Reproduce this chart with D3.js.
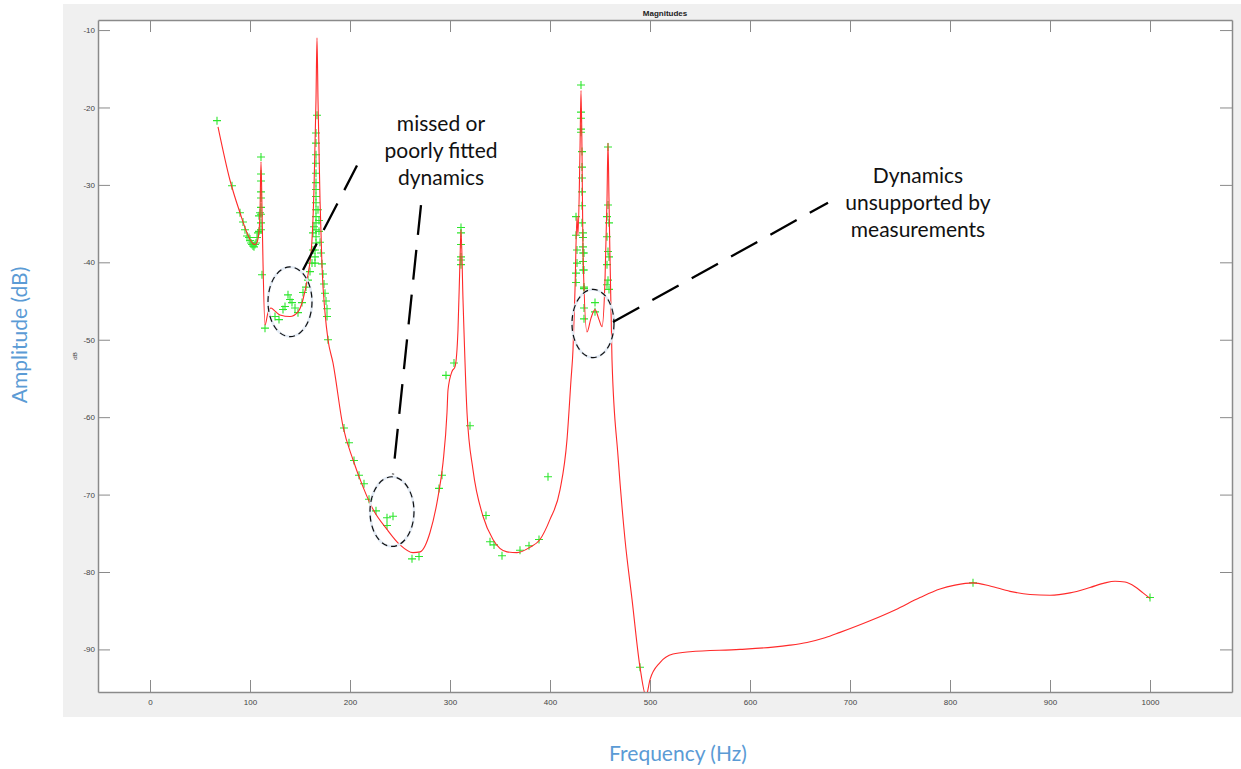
<!DOCTYPE html>
<html>
<head>
<meta charset="utf-8">
<script src="https://cdn.jsdelivr.net/npm/d3@7"></script>
<style>
  body { margin: 0; background: #fff; }
  .axis path, .axis line { stroke: #8a8a8a; }
  .axis text { font-family: "Liberation Sans", Arial, sans-serif; font-size: 8px; fill: #444; }
</style>
</head>
<body>
<script>
// fitted model (red line)
const fitFreq = [68, 80, 90, 98, 103, 105, 107, 109, 110, 111, 112, 113, 115, 118, 121, 125, 130, 140, 148, 153,
  158, 162, 164, 166, 167, 168, 170, 172, 175, 178, 183, 193, 203, 213, 223, 237, 250, 263, 270, 280,
  288, 293, 297, 298, 302, 305, 308, 310, 311, 313, 317, 323, 333, 343, 357, 367, 380, 390, 400, 410,
  417, 421, 423, 425, 427, 428, 430, 431, 432, 433, 437, 441, 445, 449, 452, 455, 457, 458, 459, 462,
  468, 475, 482, 490, 496, 500, 510, 523, 540, 590, 623, 640, 657, 675, 690, 720, 745, 770, 790, 805,
  823, 840, 860, 880, 900, 920, 940, 955, 965, 975, 985, 993, 1000];
const fitMag = [-22.5, -29.4, -33.6, -36.5, -37.6, -37.7, -37.4, -36.0, -33.5, -27.0, -33.0, -40.0, -48.1, -46.5, -45.9, -46.3, -46.8, -47.0, -46.4, -44.8,
  -41.6, -37.1, -30.5, -19.0, -11.0, -19.0, -31.9, -40.5, -46.5, -50.0, -53.0, -61.2, -65.5, -69.0, -71.9, -74.5, -76.5, -77.5, -77.4, -74.9,
  -70.3, -65.9, -59.4, -56.5, -54.1, -53.5, -48.7, -39.7, -35.8, -44.8, -59.4, -66.8, -72.8, -75.8, -77.4, -77.5, -76.8, -75.8, -73.2, -69.4,
  -62.9, -55.2, -51.3, -43.5, -34.1, -36.5, -25.5, -17.8, -25.5, -38.7, -49.0, -47.2, -46.1, -47.4, -48.3, -42.3, -31.9, -24.6, -31.9, -52.6,
  -65.0, -75.8, -83.5, -92.3, -96.0, -93.9, -91.7, -90.6, -90.3, -90.0, -89.7, -89.45, -89.1, -88.5, -87.8, -86.3, -84.9, -83.3, -82.2, -81.7,
  -81.4, -81.8, -82.5, -82.9, -83.0, -82.7, -82.0, -81.4, -81.2, -81.3, -81.9, -82.7, -83.4];

// measurements (green +)
const measFreq = [67, 82, 90, 93, 95, 97, 99, 100, 101, 102, 103, 104, 105, 106, 107, 108, 109, 109, 110,
  111, 111, 111, 111, 111, 111, 111, 111, 111, 112, 115,
  125, 129, 133, 135, 138, 140, 142, 145, 148, 152, 153, 156, 158, 160, 162, 163, 163, 164,
  167, 166, 166, 166, 166, 166, 166, 166, 166, 166, 166, 166, 166, 166, 166, 166, 165, 165, 165,
  168, 169, 169, 170, 171, 172, 173, 174, 175, 176, 177, 177, 178,
  194, 199, 204, 209, 214, 219, 226, 237, 243, 237, 262, 269,
  289, 292, 296, 304, 311, 311, 311, 311, 311, 311, 320, 336, 340, 344, 352, 370, 379, 389, 398,
  431, 431, 431, 431, 431, 432, 432, 432, 432, 432, 432, 433, 433, 433, 433, 433, 433,
  426, 426, 427, 427, 426, 426, 434, 434, 434, 434, 434, 434, 445, 445,
  458, 458, 457, 459, 457, 458, 459, 457, 458, 457, 459,
  490, 823, 1000];
const measMag = [-21.7, -30.1, -33.6, -34.8, -35.8, -36.6, -36.8, -37.2, -37.5, -37.7, -37.9, -38.0, -37.7, -37.5, -36.8, -36.2, -36.0, -34.0, -33.6,
  -26.4, -28.6, -29.5, -30.9, -31.7, -32.9, -33.8, -34.9, -35.8, -41.6, -48.5,
  -47.0, -47.4, -46.1, -45.7, -44.2, -44.8, -45.2, -45.9, -46.5, -45.2, -43.9, -43.2, -42.3, -41.2, -40.1, -38.4, -36.2, -35.4,
  -21.0, -23.3, -24.6, -26.1, -27.2, -28.5, -29.7, -30.6, -31.5, -32.3, -33.2, -34.1, -34.9, -35.8, -36.7, -37.5, -38.4, -39.3, -40.1,
  -33.2, -34.6, -36.0, -37.4, -38.8, -40.2, -41.5, -42.8, -44.0, -45.0, -46.0, -47.0, -50.0,
  -61.4, -63.3, -65.6, -67.5, -68.6, -70.6, -72.1, -73.0, -72.8, -74.0, -78.3, -78.0,
  -69.2, -67.5, -54.6, -53.0, -35.5, -36.2, -37.7, -39.3, -39.7, -40.3, -61.1, -72.7, -76.1, -76.5, -77.9, -77.2, -76.6, -75.8, -67.7,
  -17.1, -20.6, -21.4, -22.8, -23.2, -25.7, -27.7, -29.1, -30.9, -32.7, -34.9, -36.2, -36.8, -38.0, -38.8, -41.0, -39.9,
  -34.1, -36.5, -38.4, -40.1, -41.4, -42.6, -38.8, -43.2, -41.0, -45.9, -47.3, -43.4, -45.2, -46.4,
  -25.1, -32.6, -34.1, -34.9, -36.7, -38.6, -39.3, -40.3, -42.3, -42.9, -43.5,
  -92.3, -81.4, -83.3];

const xTicks = [0, 100, 200, 300, 400, 500, 600, 700, 800, 900, 1000];
const yTicks = [-10, -20, -30, -40, -50, -60, -70, -80, -90];
const xDomain = [-52, 1082];
const yDomain = [-95.5, -8.7];

// annotations, in data units
const ellipses = [
  { f: 140, db: -45.1, rf: 22, rdb: 4.5 },
  { f: 242, db: -72.2, rf: 22, rdb: 4.5 },
  { f: 443, db: -47.9, rf: 21, rdb: 4.4 }
];
const leaders = [
  { f1: 153, db1: -41.0, f2: 207, db2: -27.5 },
  { f1: 271, db1: -32.6, f2: 243, db2: -67.4 },
  { f1: 463, db1: -47.7, f2: 678, db2: -32.3 }
];
const notes = [
  { f: 291, db: -23.0, lines: ['missed or', 'poorly fitted', 'dynamics'] },
  { f: 768, db: -29.7, lines: ['Dynamics', 'unsupported by', 'measurements'] }
];

const width = 1241;
const height = 769;
const pLeft = 98, pRight = 1232, pTop = 20, pBottom = 692;

const svg = d3.select('body').append('svg')
  .attr('width', width)
  .attr('height', height);

svg.append('rect')
  .attr('x', 63).attr('y', 4)
  .attr('width', width - 63).attr('height', 713)
  .attr('fill', '#f0f0f0');

svg.append('rect')
  .attr('x', pLeft).attr('y', pTop)
  .attr('width', pRight - pLeft).attr('height', pBottom - pTop)
  .attr('fill', '#fff');

const x = d3.scaleLinear().domain(xDomain).range([pLeft, pRight]);
const y = d3.scaleLinear().domain(yDomain).range([pBottom, pTop]);
const plain = (d) => String(d);

svg.append('g')
  .attr('class', 'axis')
  .attr('transform', `translate(0, ${pBottom})`)
  .call(d3.axisBottom(x).tickValues(xTicks).tickFormat(plain).tickSizeInner(-12).tickSizeOuter(0).tickPadding(7));

svg.append('g')
  .attr('class', 'axis')
  .attr('transform', `translate(0, ${pTop})`)
  .call(d3.axisTop(x).tickValues(xTicks).tickSizeInner(-12).tickSizeOuter(0).tickFormat(''));

svg.append('g')
  .attr('class', 'axis')
  .attr('transform', `translate(${pLeft}, 0)`)
  .call(d3.axisLeft(y).tickValues(yTicks).tickFormat(plain).tickSizeInner(-12).tickSizeOuter(0).tickPadding(3));

svg.append('g')
  .attr('class', 'axis')
  .attr('transform', `translate(${pRight}, 0)`)
  .call(d3.axisRight(y).tickValues(yTicks).tickSizeInner(-12).tickSizeOuter(0).tickFormat(''));

svg.selectAll('.axis path').attr('stroke-width', 1.5);

svg.append('defs').append('clipPath').attr('id', 'plot')
  .append('rect').attr('x', pLeft).attr('y', pTop)
  .attr('width', pRight - pLeft).attr('height', pBottom - pTop);

const plot = svg.append('g').attr('clip-path', 'url(#plot)');

const fit = fitFreq.map((f, i) => ({ f, db: fitMag[i] }));
const meas = measFreq.map((f, i) => ({ f, db: measMag[i] }));

plot.selectAll('path.meas')
  .data(meas)
  .enter()
  .append('path')
  .attr('class', 'meas')
  .attr('transform', (d) => `translate(${x(d.f)}, ${y(d.db)})`)
  .attr('d', 'M-4,0H4M0,-4V4')
  .attr('stroke', '#2ee62e')
  .attr('stroke-width', 1.1)
  .attr('fill', 'none');

const line = d3.line()
  .x((d) => x(d.f))
  .y((d) => y(d.db))
  .curve(d3.curveMonotoneX);

plot.append('path')
  .datum(fit)
  .attr('d', line)
  .attr('fill', 'none')
  .attr('stroke', '#ff2a2a')
  .attr('stroke-width', 1.1);

// title and small axis label
svg.append('text')
  .attr('x', (pLeft + pRight) / 2).attr('y', 16)
  .attr('text-anchor', 'middle')
  .attr('font-family', '"Liberation Sans", Arial, sans-serif')
  .attr('font-size', 8).attr('font-weight', 'bold')
  .attr('fill', '#222')
  .text('Magnitudes');

svg.append('text')
  .attr('transform', `translate(77, ${(pTop + pBottom) / 2}) rotate(-90)`)
  .attr('text-anchor', 'middle')
  .attr('font-family', '"Liberation Sans", Arial, sans-serif')
  .attr('font-size', 6)
  .attr('fill', '#333')
  .text('dB');

// outer labels
svg.append('text')
  .attr('transform', 'translate(27, 335) rotate(-90)')
  .attr('text-anchor', 'middle')
  .attr('font-family', 'Lato, sans-serif')
  .attr('font-size', 21)
  .attr('fill', '#5b9bd5')
  .text('Amplitude (dB)');

svg.append('text')
  .attr('x', 678).attr('y', 761)
  .attr('text-anchor', 'middle')
  .attr('font-family', 'Lato, sans-serif')
  .attr('font-size', 21)
  .attr('fill', '#5b9bd5')
  .text('Frequency (Hz)');

// annotations
const ann = svg.append('g');

ann.selectAll('ellipse.halo')
  .data(ellipses)
  .enter()
  .append('ellipse')
  .attr('cx', (d) => x(d.f)).attr('cy', (d) => y(d.db))
  .attr('rx', (d) => x(d.f + d.rf) - x(d.f)).attr('ry', (d) => y(d.db - d.rdb) - y(d.db))
  .attr('fill', 'none')
  .attr('stroke', '#e3ebf5')
  .attr('stroke-width', 2.5);

ann.selectAll('ellipse.ring')
  .data(ellipses)
  .enter()
  .append('ellipse')
  .attr('cx', (d) => x(d.f)).attr('cy', (d) => y(d.db))
  .attr('rx', (d) => x(d.f + d.rf) - x(d.f)).attr('ry', (d) => y(d.db - d.rdb) - y(d.db))
  .attr('fill', 'none')
  .attr('stroke', '#111')
  .attr('stroke-width', 1.2)
  .attr('stroke-dasharray', '6,4');

ann.selectAll('line.leader')
  .data(leaders)
  .enter()
  .append('line')
  .attr('x1', (d) => x(d.f1)).attr('y1', (d) => y(d.db1))
  .attr('x2', (d) => x(d.f2)).attr('y2', (d) => y(d.db2))
  .attr('stroke', '#000')
  .attr('stroke-width', 2.3)
  .attr('stroke-dasharray', '30,15');

notes.forEach((n) => {
  const t = ann.append('text')
    .attr('text-anchor', 'middle')
    .attr('font-family', 'Lato, sans-serif')
    .attr('font-size', 21)
    .attr('fill', '#111');
  n.lines.forEach((s, i) => {
    t.append('tspan')
      .attr('x', x(n.f))
      .attr('y', y(n.db) + i * 27)
      .text(s);
  });
});
</script>
</body>
</html>
